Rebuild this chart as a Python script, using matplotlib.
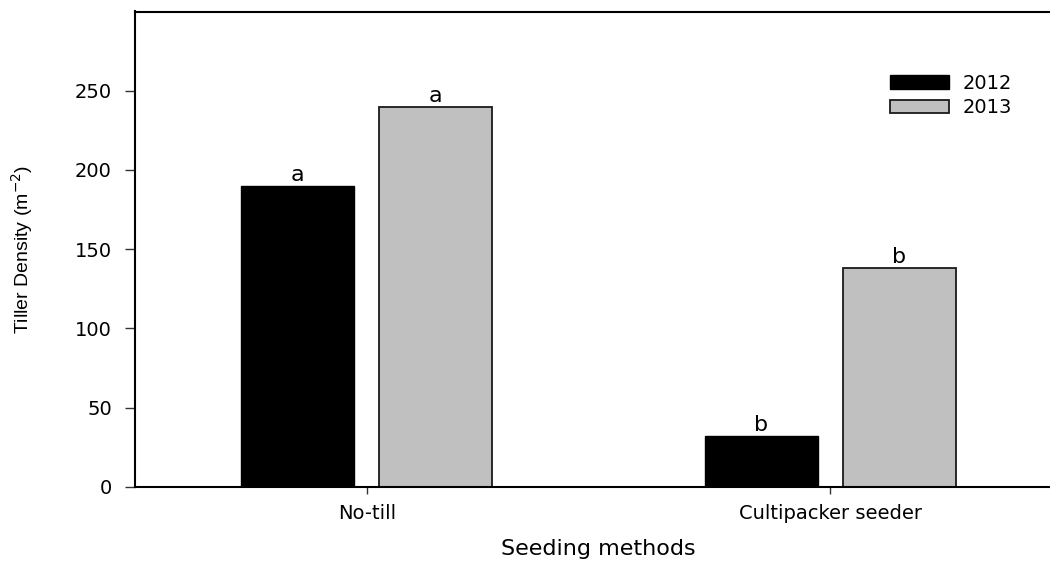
import matplotlib
matplotlib.use("Agg")
import matplotlib.pyplot as plt
import numpy as np

categories = ["No-till", "Cultipacker seeder"]
years = ["2012", "2013"]
values_2012 = [190, 32]
values_2013 = [240, 138]
letters_2012 = ["a", "b"]
letters_2013 = ["a", "b"]
yticks = [0, 50, 100, 150, 200, 250]

plt.rcParams['font.family'] = ['DejaVu Sans']

fig = plt.figure(figsize=(10.5, 5.61), dpi=100)
ax = fig.add_axes([135 / 1050, 1 - 486.7 / 561, 926.8 / 1050, 475.2 / 561])

x = np.arange(len(categories))
w = 0.244
off = 0.149
b1 = ax.bar(x - off, values_2012, w, color="black", edgecolor="black", linewidth=1.0, label=years[0])
b2 = ax.bar(x + off, values_2013, w, color="#c0c0c0", edgecolor="#1a1a1a", linewidth=1.3, label=years[1])

for xi, v, t in zip(x - off, values_2012, letters_2012):
    ax.annotate(t, (xi, v), xytext=(0, 3.5), textcoords="offset points",
                ha="center", va="baseline", fontsize=16)
for xi, v, t in zip(x + off, values_2013, letters_2013):
    ax.annotate(t, (xi, v), xytext=(0, 3.5), textcoords="offset points",
                ha="center", va="baseline", fontsize=16)

ax.set_xlim(-0.5, 1.5)
ax.set_ylim(0, 300)
ax.set_yticks(yticks)
ax.set_xticks(x)
ax.set_xticklabels(categories)

ax.spines['right'].set_visible(False)
for s in ['left', 'bottom', 'top']:
    ax.spines[s].set_linewidth(1.5)

ax.tick_params(axis='y', direction='out', length=7.2, width=1.0, pad=9.5, labelsize=14, color="#333333")
ax.tick_params(axis='x', direction='out', length=5, width=1.0, pad=7.5, labelsize=14, color="#333333")

ax.set_xlabel("Seeding methods", fontsize=16)
ax.xaxis.set_label_coords(0.5, -0.110)
ax.set_ylabel("Tiller Density (m$^{-2}$)", fontsize=14, family=["Liberation Sans"])
ax.yaxis.set_label_coords(-0.108, 0.5)

leg = ax.legend(handles=[b1, b2], labels=years, loc="upper left",
                bbox_to_anchor=(890 / 1050, 1 - 74 / 561), bbox_transform=fig.transFigure,
                frameon=False, fontsize=14, handlelength=3.05, handleheight=0.7,
                handletextpad=0.7, labelspacing=0.28, borderpad=0, borderaxespad=0)

fig.savefig("out.png", dpi=100)
